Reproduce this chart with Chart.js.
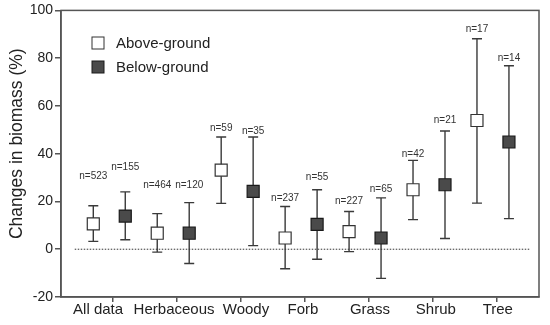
<!DOCTYPE html>
<html>
<head>
<meta charset="utf-8">
<script src="https://cdn.jsdelivr.net/npm/chart.js@4"></script>
<style>
  html, body { margin: 0; padding: 0; background: #fff; }
  #wrap { width: 550px; height: 325px; }
</style>
</head>
<body>
<div id="wrap"><canvas id="chart" width="550" height="325"></canvas></div>
<script>
const categories = ["All data", "Herbaceous", "Woody", "Forb", "Grass", "Shrub", "Tree"];

// above-ground: mean and error bar ends
const aboveMean = [10.6, 6.7, 33.1, 4.7, 7.4, 24.9, 53.9];
const aboveLow  = [3.3, -1.2, 19.2, -8.2, -1.0, 12.4, 19.3];
const aboveHigh = [18.2, 14.9, 47.0, 17.9, 15.8, 37.2, 88.1];
const aboveN    = [523, 464, 59, 237, 227, 42, 17];
const aboveNAt  = [30.4, 26.8, 50.8, 21.2, 20.0, 39.9, 91.9];

// below-ground
const belowMean = [13.9, 6.7, 24.2, 10.4, 4.7, 27.0, 44.9];
const belowLow  = [4.0, -6.0, 1.5, -4.2, -12.2, 4.5, 12.8];
const belowHigh = [24.0, 19.5, 47.0, 24.9, 21.5, 49.5, 76.8];
const belowN    = [155, 120, 35, 55, 65, 21, 14];
const belowNAt  = [34.2, 26.8, 49.5, 30.0, 25.3, 54.0, 79.9];

const yTicks = [-20, 0, 20, 40, 60, 80, 100];
const yTitle = "Changes in biomass (%)";

const FONT = "'Liberation Sans', Arial, sans-serif";
const shiftA = -0.31, shiftB = 0.19;
// small horizontal nudges of the category labels, as in the original figure
const labelNudge = [-15, -3, 5, -2, 1, 3, 1];

function pts(vals, shift) {
    return vals.map((v, i) => ({x: i + shift, y: v}));
}

const errorBars = {
    id: "errorBars",
    beforeDatasetsDraw(chart) {
        const ctx = chart.ctx, xs = chart.scales.x, ys = chart.scales.y;
        ctx.save();
        ctx.strokeStyle = "#3a3a3a";
        ctx.lineWidth = 1.4;
        chart.data.datasets.forEach(ds => {
            if (!ds.lo) return;
            ds.data.forEach((p, i) => {
                const x = xs.getPixelForValue(p.x);
                const y1 = ys.getPixelForValue(ds.lo[i]);
                const y2 = ys.getPixelForValue(ds.hi[i]);
                ctx.beginPath();
                ctx.moveTo(x, y1); ctx.lineTo(x, y2);
                ctx.moveTo(x - 5, y1); ctx.lineTo(x + 5, y1);
                ctx.moveTo(x - 5, y2); ctx.lineTo(x + 5, y2);
                ctx.stroke();
            });
        });
        ctx.restore();
    },
    afterDatasetsDraw(chart) {
        const ctx = chart.ctx, xs = chart.scales.x, ys = chart.scales.y;
        ctx.save();
        ctx.fillStyle = "#333";
        ctx.font = "10px " + FONT;
        ctx.textAlign = "center";
        ctx.textBaseline = "middle";
        chart.data.datasets.forEach(ds => {
            if (!ds.nCount) return;
            ds.data.forEach((p, i) => {
                ctx.fillText("n=" + ds.nCount[i], xs.getPixelForValue(p.x), ys.getPixelForValue(ds.nAt[i]));
            });
        });
        // frame
        const a = chart.chartArea;
        ctx.strokeStyle = "#555";
        ctx.lineWidth = 1.5;
        ctx.strokeRect(a.left, a.top, a.right - a.left, a.bottom - a.top);
        // category labels
        ctx.fillStyle = "#222";
        ctx.font = "15px " + FONT;
        ctx.textBaseline = "alphabetic";
        categories.forEach((c, i) => {
            ctx.fillText(c, xs.getPixelForValue(i) + labelNudge[i], a.bottom + 17);
        });
        // y title
        ctx.save();
        ctx.translate(22, (a.top + a.bottom) / 2 - 10);
        ctx.rotate(-Math.PI / 2);
        ctx.font = "17.5px " + FONT;
        ctx.fillText(yTitle, 0, 0);
        ctx.restore();
        // legend inside plot
        ctx.font = "15px " + FONT;
        ctx.textAlign = "left";
        ctx.textBaseline = "middle";
        chart.data.datasets.filter(ds => ds.nCount).forEach((ds, k) => {
            const cy = 43 + k * 24;
            ctx.fillStyle = ds.pointBackgroundColor;
            ctx.fillRect(92, cy - 6, 12, 12);
            ctx.strokeStyle = ds.pointBorderColor;
            ctx.lineWidth = 1;
            ctx.strokeRect(92, cy - 6, 12, 12);
            ctx.fillStyle = "#222";
            ctx.fillText(ds.label, 116, cy + 1);
        });
        ctx.restore();
    }
};

new Chart("chart", {
    type: "scatter",
    data: {
        datasets: [
            {
                label: "zero",
                type: "line",
                data: [{x: -0.6, y: 0}, {x: 6.53, y: 0}],
                borderColor: "#333",
                borderWidth: 1,
                borderDash: [1.5, 1.5],
                pointRadius: 0,
                fill: false
            },
            {
                label: "Above-ground",
                data: pts(aboveMean, shiftA),
                lo: aboveLow, hi: aboveHigh, nCount: aboveN, nAt: aboveNAt,
                pointStyle: "rect",
                pointRadius: 8.5,
                pointBackgroundColor: "#ffffff",
                pointBorderColor: "#333",
                pointBorderWidth: 1.2
            },
            {
                label: "Below-ground",
                data: pts(belowMean, shiftB),
                lo: belowLow, hi: belowHigh, nCount: belowN, nAt: belowNAt,
                pointStyle: "rect",
                pointRadius: 8.5,
                pointBackgroundColor: "#4a4a4a",
                pointBorderColor: "#1a1a1a",
                pointBorderWidth: 1.2
            }
        ]
    },
    options: {
        responsive: false,
        animation: false,
        layout: {padding: {left: 0, right: 11, top: 9, bottom: 0}},
        plugins: {legend: {display: false}, tooltip: {enabled: false}},
        scales: {
            x: {
                type: "linear",
                min: -0.815,
                max: 6.66,
                afterFit: s => { s.height = 28; },
                afterBuildTicks: s => { s.ticks = categories.map((c, i) => ({value: i})); },
                border: {color: "#555", width: 1.5},
                grid: {drawOnChartArea: false, tickLength: 5, color: "#555", lineWidth: 1.5},
                ticks: {display: false}
            },
            y: {
                min: -20,
                max: 100,
                afterFit: s => { s.width = 61; },
                afterBuildTicks: s => { s.ticks = yTicks.map(v => ({value: v})); },
                border: {color: "#555", width: 1.5},
                grid: {drawOnChartArea: false, tickLength: 6, color: "#555", lineWidth: 1.5},
                ticks: {
                    padding: 2,
                    color: "#222",
                    font: {family: FONT, size: 14}
                }
            }
        }
    },
    plugins: [errorBars]
});
</script>
</body>
</html>
